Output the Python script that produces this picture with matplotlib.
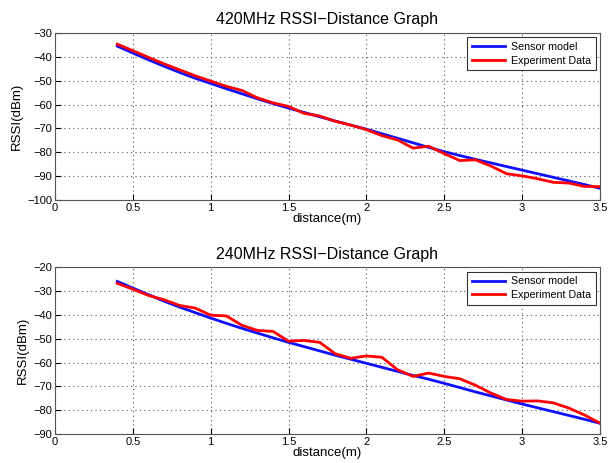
import matplotlib
matplotlib.use("Agg")
import matplotlib.pyplot as plt

plt.rcParams['font.family'] = ['Liberation Sans', 'DejaVu Sans']

distance = [0.4, 0.5, 0.6, 0.7, 0.8, 0.9, 1.0, 1.1, 1.2, 1.3, 1.4, 1.5, 1.6, 1.7, 1.8, 1.9,
            2.0, 2.1, 2.2, 2.3, 2.4, 2.5, 2.6, 2.7, 2.8, 2.9, 3.0, 3.1, 3.2, 3.3, 3.4, 3.5]

model_420 = [-35.6, -38.5, -41.3, -44.0, -46.6, -49.0, -51.2, -53.4, -55.5, -57.6, -59.6, -61.5,
             -63.3, -65.1, -66.9, -68.6, -70.3, -72.2, -74.1, -76.0, -77.9, -79.7, -81.3, -82.9,
             -84.4, -85.9, -87.4, -88.9, -90.4, -91.9, -93.4, -95.0]
exp_420 = [-34.8, -37.5, -40.3, -43.0, -45.5, -48.0, -50.2, -52.4, -54.1, -57.2, -59.3, -60.8,
           -63.7, -64.8, -67.0, -68.6, -70.5, -73.0, -74.8, -78.2, -77.4, -80.5, -83.4, -83.1,
           -85.7, -88.9, -89.8, -91.0, -92.5, -92.8, -94.2, -94.3]

model_240 = [-25.9, -28.7, -31.5, -34.2, -36.7, -39.0, -41.3, -43.5, -45.6, -47.6, -49.6, -51.5,
             -53.3, -55.1, -56.9, -58.6, -60.3, -62.0, -63.7, -65.4, -67.0, -68.7, -70.5, -72.3,
             -74.0, -75.7, -77.4, -79.0, -80.6, -82.2, -83.8, -85.5]
exp_240 = [-26.7, -29.2, -31.8, -33.6, -36.0, -37.1, -40.1, -40.4, -44.3, -46.5, -46.9, -51.0,
           -50.7, -51.5, -56.3, -58.2, -57.2, -57.8, -63.0, -65.8, -64.4, -65.8, -66.8, -69.5,
           -72.8, -75.5, -76.2, -76.1, -76.9, -79.1, -82.0, -85.4]

titles = ["420MHz RSSI\u2212Distance Graph", "240MHz RSSI\u2212Distance Graph"]
ylims = [(-100, -30), (-90, -20)]
xticks = [0, 0.5, 1, 1.5, 2, 2.5, 3, 3.5]
xticklabels = ["0", "0.5", "1", "1.5", "2", "2.5", "3", "3.5"]
legend_labels = ["Sensor model", "Experiment Data"]

fig = plt.figure(figsize=(6.13, 4.63), dpi=100)
positions = [[0.0897, 0.5674, 0.889, 0.362], [0.0897, 0.0626, 0.889, 0.360]]
series = [(model_420, exp_420), (model_240, exp_240)]

for pos, title, ylim, (model, exp) in zip(positions, titles, ylims, series):
    ax = fig.add_axes(pos)
    ax.plot(distance, model, color='#1010ff', lw=2.0, label=legend_labels[0])
    ax.plot(distance, exp, color='#ff0000', lw=2.0, label=legend_labels[1])
    ax.set_xlim(0, 3.5)
    ax.set_ylim(*ylim)
    ax.set_xticks(xticks)
    ax.set_xticklabels(xticklabels)
    ax.set_yticks(list(range(ylim[0], ylim[1] + 1, 10)))
    ax.grid(True, linestyle=(0, (1, 3)), color='#555555', lw=0.8)
    ax.tick_params(direction='in', labelsize=8, length=4, pad=2)
    ax.set_title(title, fontsize=11.5, pad=6)
    ax.set_xlabel("distance(m)", fontsize=9.5, labelpad=0)
    ax.set_ylabel("RSSI(dBm)", fontsize=9.5, labelpad=3)
    for s in ax.spines.values():
        s.set_color('#555555')
    leg = ax.legend(loc='upper right', fontsize=7.7, fancybox=False, framealpha=1,
                    edgecolor='#333333', handlelength=3.1, borderaxespad=0.4,
                    labelspacing=0.35, handletextpad=0.5, borderpad=0.45)
    leg.get_frame().set_linewidth(0.8)

fig.savefig("out.png", dpi=100)
